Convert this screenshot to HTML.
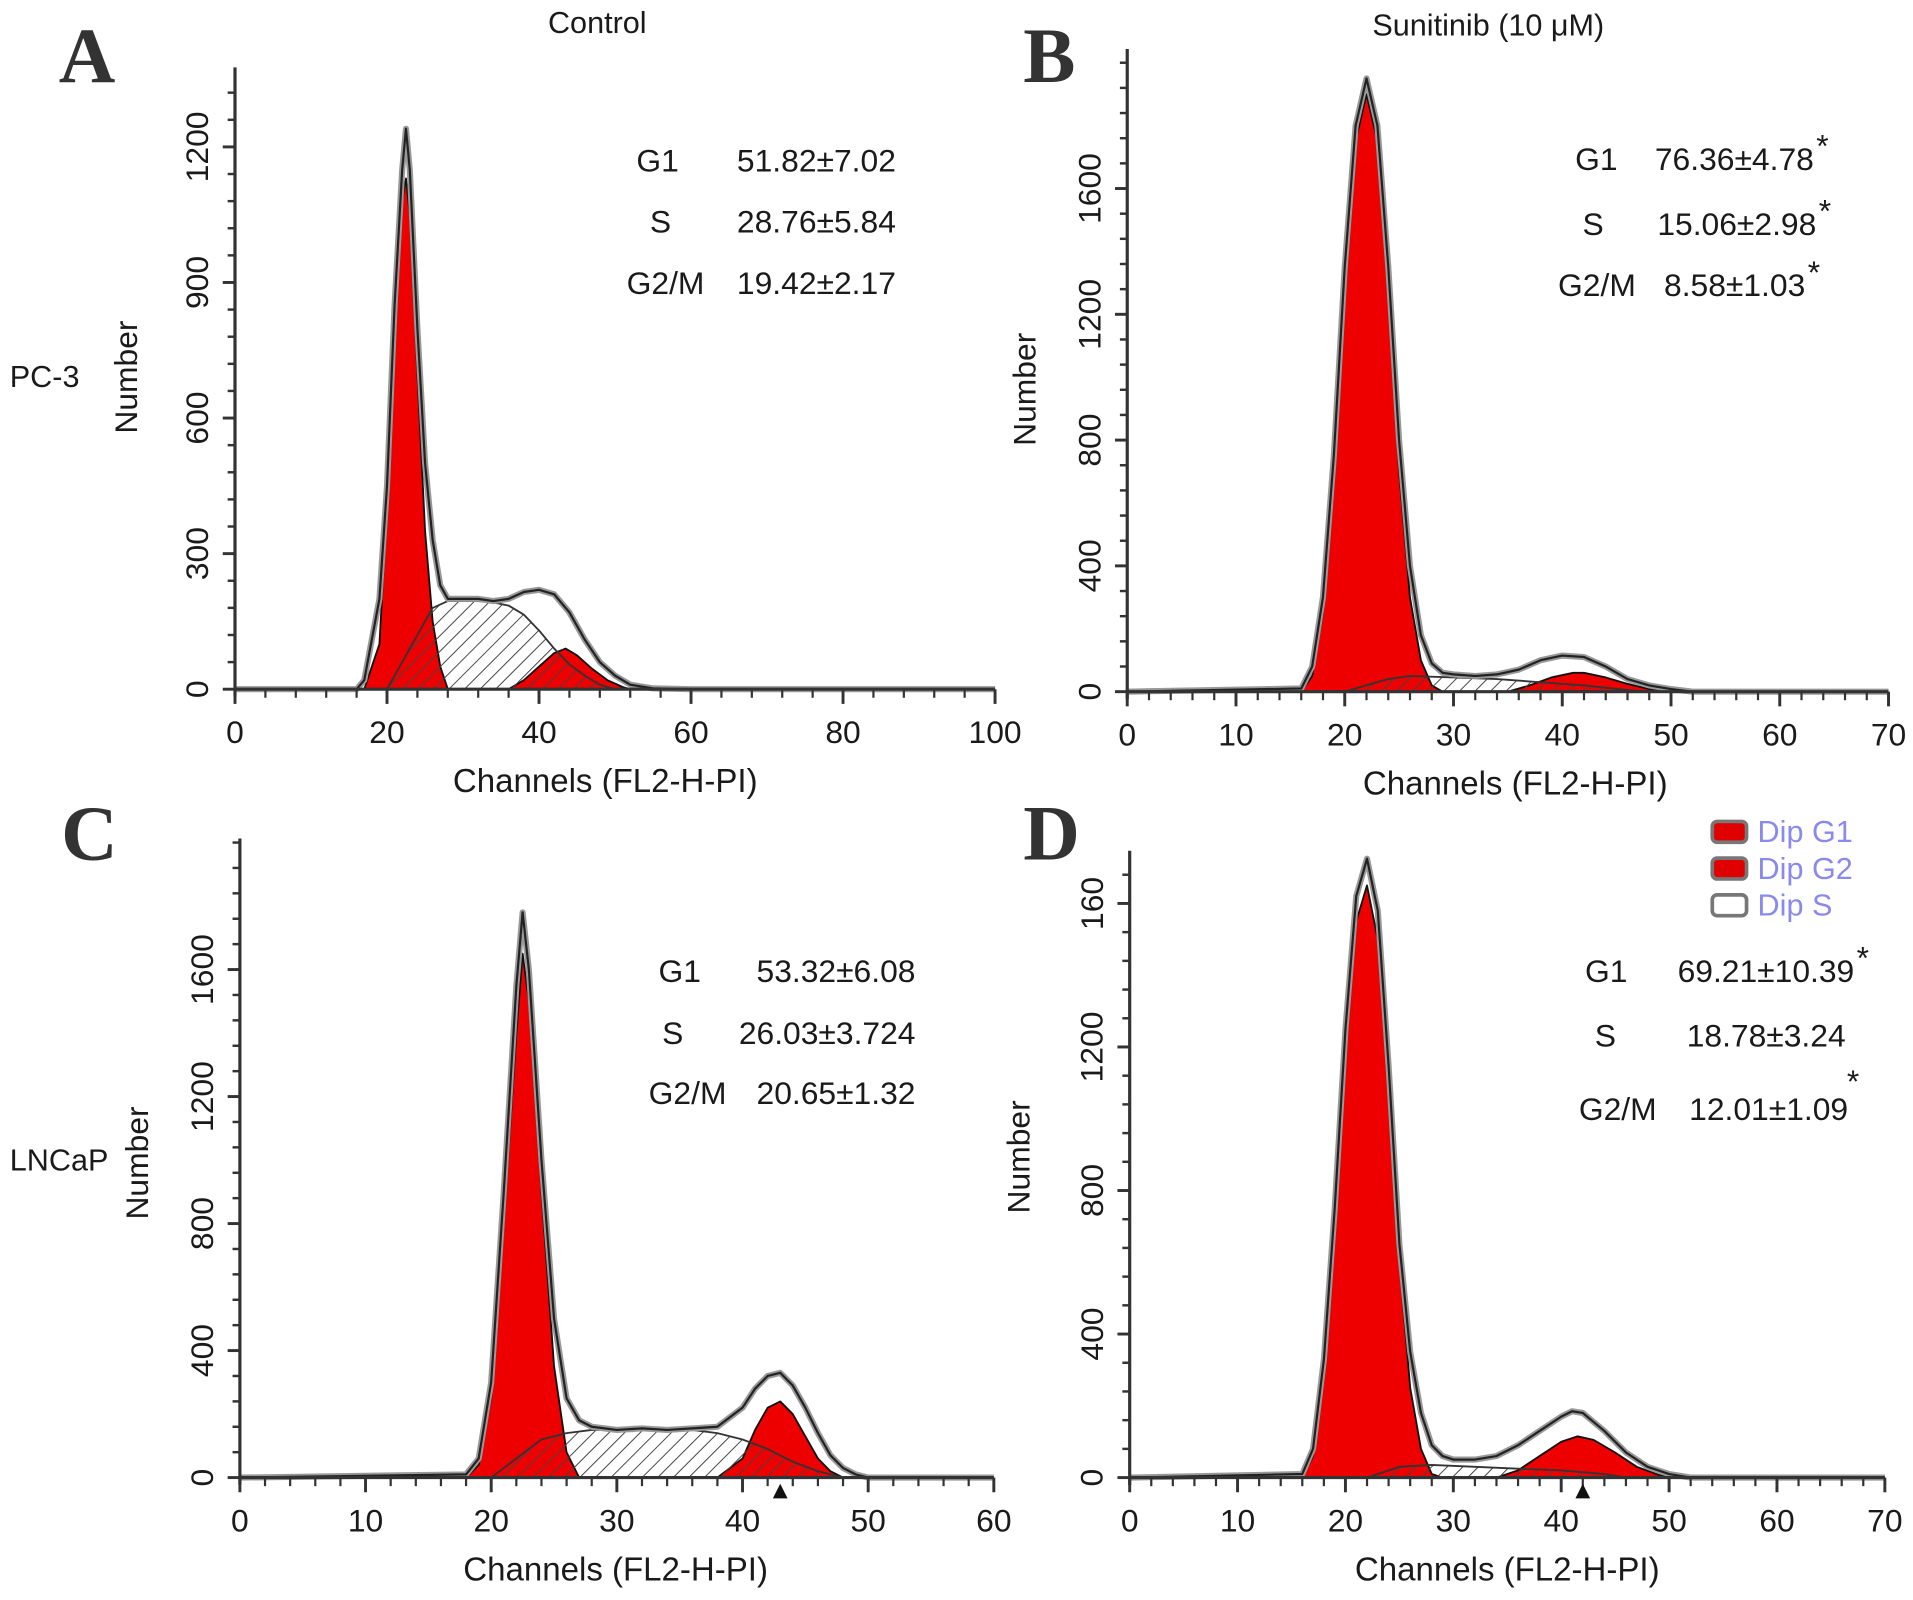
<!DOCTYPE html>
<html><head><meta charset="utf-8"><style>
html,body{margin:0;padding:0;background:#fff;}
svg{display:block;}
text{font-family:"Liberation Sans",sans-serif;fill:#1a1a1a;}
.big{font-family:"Liberation Serif",serif;font-weight:bold;fill:#333;}
</style></head><body>
<svg id="fig" width="1913" height="1600" viewBox="0 0 1563 1307" preserveAspectRatio="none" xmlns="http://www.w3.org/2000/svg">
<defs>
<pattern id="hatch" patternUnits="userSpaceOnUse" width="9" height="9" patternTransform="rotate(45)">
<line x1="0" y1="0" x2="0" y2="9" stroke="#444" stroke-width="1.6"/>
</pattern>
</defs>
</svg>
<script>
// ---- data (channel, count) ----
const aCh = [0,16,17,19,20,21,22,22.5,23,24,25,26,27,28,30,32,34,36,38,40,42,44,46,48,50,52,55,60,100];
const aTotal = [0,0,20,200,450,850,1150,1240,1150,800,500,330,230,200,200,200,195,200,215,220,210,170,110,60,30,10,2,0,0];
const aG1Ch = [17,19,20,21,22,22.5,23,24,25,26,27,28];
const aG1 = [0,100,400,800,1080,1130,1050,700,350,150,50,0];
const aSCh = [20,22,24,26,28,30,32,34,36,38,40,42,44,46,48,50];
const aS = [0,60,120,180,195,195,195,192,185,165,130,90,55,30,10,0];
const aG2Ch = [36,38,40,42,43.5,45,47,49,51,52];
const aG2 = [0,20,50,80,90,75,45,20,5,0];

const bCh = [0,16,17,18,19,20,21,22,23,24,25,26,27,28,29,30,32,34,36,38,40,42,44,46,48,50,52,70];
const bTotal = [0,10,80,300,750,1350,1800,1950,1800,1350,800,400,180,90,60,55,50,55,70,100,115,110,80,40,20,8,0,0];
const bG1Ch = [16,17,18,19,20,21,22,23,24,25,26,27,28,29];
const bG1 = [0,50,250,700,1300,1750,1900,1750,1300,700,300,100,20,0];
const bSCh = [20,24,26,30,34,38,42,46,48];
const bS = [0,40,50,45,40,30,20,5,0];
const bG2Ch = [35,37,39,41,42,44,46,48,50];
const bG2 = [0,20,45,60,60,45,25,8,0];

const cCh = [0,18,19,20,21,22,22.5,23,24,25,26,27,28,30,32,34,36,38,40,41,42,43,44,45,46,47,48,49,50,60];
const cTotal = [0,10,60,300,900,1550,1780,1600,1000,500,250,180,160,150,155,150,155,160,220,280,320,330,290,220,140,70,30,10,0,0];
const cG1Ch = [18,19,20,21,22,22.5,23,24,25,26,27];
const cG1 = [0,40,250,800,1400,1650,1500,900,350,80,0];
const cSCh = [20,22,24,26,28,30,34,36,38,40,42,44,46,48];
const cS = [0,60,120,140,150,150,150,150,140,120,90,50,20,0];
const cG2Ch = [38,40,41,42,43,44,45,46,47,48];
const cG2 = [0,60,150,220,240,200,130,60,20,0];

const dCh = [0,16,17,18,19,20,21,22,23,24,25,26,27,28,29,30,32,34,36,38,40,41,42,44,46,48,50,52,70];
const dTotal = [0,10,80,330,750,1250,1620,1725,1580,1150,650,350,180,90,60,50,50,60,90,130,170,185,180,130,70,30,10,0,0];
const dG1Ch = [16,17,18,19,20,21,22,23,24,25,26,27,28,29];
const dG1 = [0,60,300,700,1200,1550,1650,1500,1100,600,250,80,10,0];
const dSCh = [22,25,28,32,36,40,44,46];
const dS = [0,30,35,30,25,20,10,0];
const dG2Ch = [34,36,38,40,41.5,43,45,47,49,50];
const dG2 = [0,20,60,100,115,105,70,30,8,0];

// tick labels
const aXTicks = [0,20,40,60,80,100];
const aYTicks = [0,300,600,900,1200];
const bXTicks = [0,10,20,30,40,50,60,70];
const bYTicks = [0,400,800,1200,1600];
const cXTicks = [0,10,20,30,40,50,60];
const cYTicks = [0,400,800,1200,1600];
const dXTicks = [0,10,20,30,40,50,60,70];
const dYTicks = [0,400,800,1200,1600];
const dYTickLabels = ["0","400","800","1200","160"];

const NS="http://www.w3.org/2000/svg";
const svg=document.getElementById('fig');
function mk(tag,attrs,parent){const e=document.createElementNS(NS,tag);for(const k in attrs)e.setAttribute(k,attrs[k]);(parent||svg).appendChild(e);return e;}
function txt(s,x,y,size,anchor,parent,extra){const t=mk('text',Object.assign({x:x,y:y,'font-size':size,'text-anchor':anchor||'middle'},extra||{}),parent);t.textContent=s;return t;}

function panel(id,g,xs,xmin,xmax){
  const grp=mk('g',{});
  
  
  const X=v=>g.x0+(v-xmin)/(xmax-xmin)*(g.x1-g.x0);
  const Y=v=>g.y0-v/g.yref*(g.y0-g.yrefPx);
  function pts(ch,val){return ch.map((c,i)=>X(c).toFixed(1)+','+Y(val[i]).toFixed(1)).join(' ');}
  function area(ch,val,fill,name,stroke){
    const p=mk('polygon',{points:X(ch[0])+','+g.y0+' '+pts(ch,val)+' '+X(ch[ch.length-1])+','+g.y0,fill:fill,stroke:stroke||'none','stroke-width':1.5,'stroke-linejoin':'round'},grp);
    
    
    return p;
  }
  area(xs.g1ch,xs.g1,'#ee0000','g1-area-'+id,'#111');
  area(xs.g2ch,xs.g2,'#ee0000','g2-area-'+id,'#111');
  area(xs.sch,xs.s,'url(#hatch)','s-area-'+id,'#333');
  const tl2=mk('polyline',{points:pts(xs.ch,xs.total),fill:'none',stroke:'#999','stroke-width':5,'stroke-linejoin':'round'},grp);
  
  
  const tl=mk('polyline',{points:pts(xs.ch,xs.total),fill:'none',stroke:'#222','stroke-width':1.8,'stroke-linejoin':'round'},grp);
  
  
  const ax=mk('g',{stroke:'#333','stroke-width':2.6},grp);
  
  
  mk('line',{x1:g.x0,y1:g.y0,x2:g.x1,y2:g.y0},ax);
  mk('line',{x1:g.x0,y1:g.y0+6,x2:g.x0,y2:g.ytop},ax);
  const minorX=(xmax-xmin)/g.xminor;
  for(let i=0;i<=g.xminor;i++){const v=xmin+i*minorX;const major=g.xt.some(t=>Math.abs(t-v)<1e-6);mk('line',{x1:X(v),y1:g.y0,x2:X(v),y2:g.y0+(major?12:7),'stroke-width':major?2.4:1.8},ax);}
  g.xt.forEach(t=>{const l=txt(String(t),X(t),g.y0+44,26,'middle',grp);});
  for(let v=0;Y(v)>=g.ytop;v+=g.yminor){const major=g.yt.some(t=>Math.abs(t-v)<1e-6);mk('line',{x1:g.x0-(major?10:6),y1:Y(v),x2:g.x0,y2:Y(v),'stroke-width':major?2.4:2},ax);}
  g.yt.forEach((t,i)=>{const lab=g.ylab?g.ylab[i]:String(t);const l=txt(lab,g.x0-22,Y(t),26,'middle',grp,{transform:'rotate(-90 '+(g.x0-22)+' '+Y(t)+')'});});
  const xt=txt('Channels (FL2-H-PI)',(g.x0+g.x1)/2+g.xtOff,g.y0+84,27,'middle',grp);
  
  const yx=g.x0-g.ytOff, yy=g.ytY;
  const yt=txt('Number',yx,yy,26,'middle',grp,{transform:'rotate(-90 '+yx+' '+yy+')'});
  
  return {X:X,Y:Y,grp:grp};
}

const A=panel('a',{x0:192,x1:813,y0:563,yref:1200,yrefPx:120,ytop:55,xminor:25,yminor:60,xt:aXTicks,yt:aYTicks,xtOff:-8,ytOff:80,ytY:308},
 {ch:aCh,total:aTotal,g1ch:aG1Ch,g1:aG1,sch:aSCh,s:aS,g2ch:aG2Ch,g2:aG2},0,100);
const B=panel('b',{x0:921,x1:1543,y0:565,yref:1600,yrefPx:154,ytop:40,xminor:35,yminor:80,xt:bXTicks,yt:bYTicks,xtOff:6,ytOff:75,ytY:318},
 {ch:bCh,total:bTotal,g1ch:bG1Ch,g1:bG1,sch:bSCh,s:bS,g2ch:bG2Ch,g2:bG2},0,70);
const C=panel('c',{x0:196,x1:812,y0:1207,yref:1600,yrefPx:792,ytop:685,xminor:30,yminor:80,xt:cXTicks,yt:cYTicks,xtOff:-1,ytOff:75,ytY:950},
 {ch:cCh,total:cTotal,g1ch:cG1Ch,g1:cG1,sch:cSCh,s:cS,g2ch:cG2Ch,g2:cG2},0,60);
const D=panel('d',{x0:923,x1:1540,y0:1207,yref:1600,yrefPx:738,ytop:695,xminor:35,yminor:80,xt:dXTicks,yt:dYTicks,ylab:dYTickLabels,xtOff:0,ytOff:82,ytY:945},
 {ch:dCh,total:dTotal,g1ch:dG1Ch,g1:dG1,sch:dSCh,s:dS,g2ch:dG2Ch,g2:dG2},0,70);

[[C,43],[D,42]].forEach(([P,v])=>{const x=P.X(v);const t=mk('polygon',{points:(x-6)+',1224 '+(x+6)+',1224 '+x+',1212',fill:'#111'});

});
</script>
<svg style="position:absolute;left:0;top:0" width="1913" height="1600" viewBox="0 0 1563 1307" preserveAspectRatio="none" xmlns="http://www.w3.org/2000/svg">
<style>text{font-family:"Liberation Sans",sans-serif;fill:#1a1a1a;} .big{font-family:"Liberation Serif",serif;font-weight:bold;fill:#333;}</style>
<text class="big" x="48" y="67" font-size="64">A</text>
<text class="big" x="836" y="67" font-size="64">B</text>
<text class="big" x="50" y="702" font-size="64">C</text>
<text class="big" x="836" y="702" font-size="64">D</text>
<text x="488" y="27" font-size="25" text-anchor="middle">Control</text>
<text x="1216" y="29" font-size="25" text-anchor="middle">Sunitinib (10 μM)</text>
<text x="8" y="316" font-size="25">PC-3</text>
<text x="8" y="956" font-size="25">LNCaP</text>
<g font-size="26">
<text x="520" y="140">G1</text><text x="732" y="140" text-anchor="end">51.82±7.02</text>
<text x="531" y="190">S</text><text x="732" y="190" text-anchor="end">28.76±5.84</text>
<text x="512" y="240">G2/M</text><text x="732" y="240" text-anchor="end">19.42±2.17</text>
</g>
<g font-size="26">
<text x="1287" y="139">G1</text><text x="1482" y="139" text-anchor="end">76.36±4.78</text><text x="1484" y="128" font-size="26">*</text>
<text x="1293" y="192">S</text><text x="1484" y="192" text-anchor="end">15.06±2.98</text><text x="1486" y="181" font-size="26">*</text>
<text x="1273" y="242">G2/M</text><text x="1475" y="242" text-anchor="end">8.58±1.03</text><text x="1477" y="231" font-size="26">*</text>
</g>
<g font-size="26">
<text x="538" y="802">G1</text><text x="748" y="802" text-anchor="end">53.32±6.08</text>
<text x="541" y="853">S</text><text x="748" y="853" text-anchor="end">26.03±3.724</text>
<text x="530" y="902">G2/M</text><text x="748" y="902" text-anchor="end">20.65±1.32</text>
</g>
<g font-size="26">
<text x="1295" y="802">G1</text><text x="1515" y="802" text-anchor="end">69.21±10.39</text><text x="1517" y="791" font-size="26">*</text>
<text x="1303" y="855">S</text><text x="1508" y="855" text-anchor="end">18.78±3.24</text>
<text x="1290" y="915">G2/M</text><text x="1510" y="915" text-anchor="end">12.01±1.09</text><text x="1509" y="892" font-size="26">*</text>
</g>
<g>
<rect x="1399" y="671" width="28" height="17" rx="4" fill="#e00000" stroke="#777" stroke-width="3"/>
<rect x="1399" y="701" width="28" height="17" rx="4" fill="#e00000" stroke="#777" stroke-width="3"/>
<rect x="1399" y="731" width="28" height="17" rx="4" fill="#fff" stroke="#777" stroke-width="3"/>
<text x="1436" y="688" font-size="25" style="fill:#8a8aee">Dip G1</text>
<text x="1436" y="718" font-size="25" style="fill:#8a8aee">Dip G2</text>
<text x="1436" y="748" font-size="25" style="fill:#8a8aee">Dip S</text>
</g>
</svg>
</body></html>
